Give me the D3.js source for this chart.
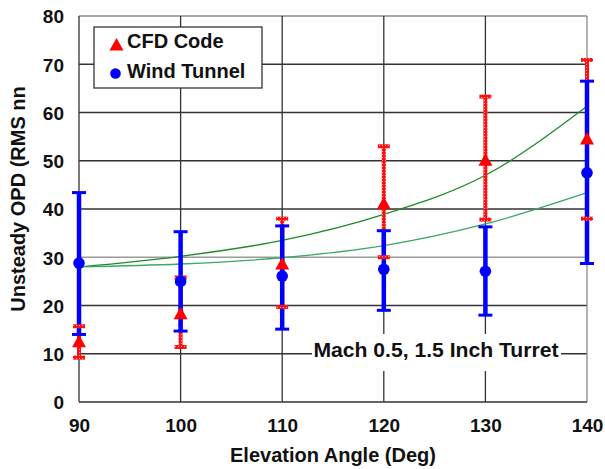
<!DOCTYPE html>
<html>
<head>
<meta charset="utf-8">
<script src="https://cdn.jsdelivr.net/npm/d3@7"></script>
<style>
  body { margin: 0; background: #fff; }
  svg text { font-family: "Liberation Sans", Arial, sans-serif; font-weight: bold; fill: #111; }
</style>
</head>
<body>
<svg id="chart" width="605" height="469"></svg>
<script>
// elevation angle (deg)
const angles = [90, 100, 110, 120, 130, 140];

// CFD code: mean and error bar ends
const cfdValue = [12.6, 18.4, 28.7, 41.2, 50.2, 54.6];
const cfdHigh = [15.7, 25.8, 38.0, 53.0, 63.3, 70.9];
const cfdLow = [9.2, 11.4, 19.7, 30.0, 37.8, 38.0];

// wind tunnel: mean and error bar ends
const wtValue = [28.8, 25.0, 26.1, 27.5, 27.1, 47.5];
const wtHigh = [43.4, 35.3, 36.5, 35.5, 36.3, 66.5];
const wtLow = [14.0, 14.7, 15.1, 19.0, 18.0, 28.7];

// the two green trend curves
const fitUpper = [28.0, 30.2, 33.5, 38.9, 47.0, 61.3];
const fitLower = [28.0, 28.6, 29.9, 32.4, 36.9, 43.4];

const yTicks = [0, 10, 20, 30, 40, 50, 60, 70, 80];

const svg = d3.select("#chart");
const plotLeft = 79, plotRight = 587, plotTop = 16, plotBottom = 402;

const x = d3.scaleLinear().domain([90, 140]).range([plotLeft, plotRight]);
const y = d3.scaleLinear().domain([0, 80]).range([plotBottom, plotTop]);

// speckled red fill used by the CFD error bars
const pat = svg.append("defs").append("pattern")
  .attr("id", "speckle")
  .attr("width", 3).attr("height", 3)
  .attr("patternUnits", "userSpaceOnUse");
pat.append("rect").attr("width", 3).attr("height", 3).attr("fill", "#ff1010");
pat.append("rect").attr("x", 1).attr("y", 1).attr("width", 1).attr("height", 1)
  .attr("fill", "#ffb0b0");

// grid
svg.append("g").selectAll("line")
  .data(yTicks.filter(d => d > 0))
  .join("line")
  .attr("x1", plotLeft).attr("x2", plotRight)
  .attr("y1", d => y(d)).attr("y2", d => y(d))
  .attr("stroke", d => d === 30 ? "#9a9a9a" : (d === 80 ? "#8a8a8a" : "#333"))
  .attr("stroke-width", 1.3);

svg.append("g").selectAll("line")
  .data(angles)
  .join("line")
  .attr("x1", d => x(d)).attr("x2", d => x(d))
  .attr("y1", plotTop).attr("y2", plotBottom)
  .attr("stroke", d => d === 140 ? "#8a8a8a" : "#333")
  .attr("stroke-width", 1.3);

svg.append("line")
  .attr("x1", plotLeft).attr("x2", plotRight).attr("y1", plotBottom).attr("y2", plotBottom)
  .attr("stroke", "#333").attr("stroke-width", 1.5);

// axes (labels only)
const xAxis = svg.append("g")
  .attr("transform", `translate(0,${plotBottom})`)
  .call(d3.axisBottom(x).tickValues(angles).tickSize(0).tickPadding(0));
xAxis.select(".domain").remove();
xAxis.selectAll("text")
  .attr("y", 30).attr("dy", null)
  .style("font-size", "19px");

const yAxis = svg.append("g")
  .attr("transform", `translate(${plotLeft},0)`)
  .call(d3.axisLeft(y).tickValues(yTicks).tickSize(0).tickPadding(15));
yAxis.select(".domain").remove();
yAxis.selectAll("text")
  .attr("dy", "0.36em")
  .style("font-size", "19px");

svg.append("text")
  .attr("x", (plotLeft + plotRight) / 2).attr("y", 462)
  .attr("text-anchor", "middle")
  .style("font-size", "20px")
  .text("Elevation Angle (Deg)");

svg.append("text")
  .attr("transform", "translate(25,199) rotate(-90)")
  .attr("text-anchor", "middle")
  .style("font-size", "20px")
  .text("Unsteady OPD (RMS nn");

// annotation
svg.append("rect")
  .attr("x", 312).attr("y", 334).attr("width", 249).attr("height", 37)
  .attr("fill", "#fff");
svg.append("text")
  .attr("x", 436).attr("y", 357)
  .attr("text-anchor", "middle")
  .attr("textLength", 245).attr("lengthAdjust", "spacingAndGlyphs")
  .style("font-size", "20px")
  .text("Mach 0.5,  1.5 Inch Turret");

// trend curves
const line = d3.line()
  .x((d, i) => x(angles[i]))
  .y(d => y(d))
  .curve(d3.curveMonotoneX);

svg.append("path").datum(fitUpper)
  .attr("d", line).attr("fill", "none")
  .attr("stroke", "#1f8a2a").attr("stroke-width", 1.3);
svg.append("path").datum(fitLower)
  .attr("d", line).attr("fill", "none")
  .attr("stroke", "#3aa868").attr("stroke-width", 1.3);

// CFD error bar stems
svg.append("g").selectAll("rect")
  .data(angles)
  .join("rect")
  .attr("x", d => x(d) - 2)
  .attr("y", (d, i) => y(cfdHigh[i]))
  .attr("width", 4)
  .attr("height", (d, i) => y(cfdLow[i]) - y(cfdHigh[i]))
  .attr("fill", "url(#speckle)");

// wind tunnel error bars
const wt = svg.append("g").attr("stroke", "#0000ff");
wt.selectAll("line.stem")
  .data(angles)
  .join("line")
  .attr("class", "stem")
  .attr("x1", d => x(d)).attr("x2", d => x(d))
  .attr("y1", (d, i) => y(wtHigh[i])).attr("y2", (d, i) => y(wtLow[i]))
  .attr("stroke-width", 4.5);
for (const ends of [wtHigh, wtLow]) {
  wt.append("g").selectAll("line")
    .data(angles)
    .join("line")
    .attr("x1", d => x(d) - 7).attr("x2", d => x(d) + 7)
    .attr("y1", (d, i) => y(ends[i])).attr("y2", (d, i) => y(ends[i]))
    .attr("stroke-width", 3);
}

// CFD caps
for (const ends of [cfdHigh, cfdLow]) {
  svg.append("g").selectAll("rect")
    .data(angles)
    .join("rect")
    .attr("x", d => x(d) - 6)
    .attr("y", (d, i) => y(ends[i]) - 2)
    .attr("width", 12).attr("height", 4)
    .attr("fill", "url(#speckle)");
}

// markers
svg.append("g").selectAll("circle")
  .data(angles)
  .join("circle")
  .attr("cx", d => x(d))
  .attr("cy", (d, i) => y(wtValue[i]))
  .attr("r", 5.8)
  .attr("fill", "#0000ff");

const tri = (cx, cy) => `M${cx},${cy - 6.5}L${cx + 7},${cy + 6}L${cx - 7},${cy + 6}Z`;
svg.append("g").selectAll("path")
  .data(angles)
  .join("path")
  .attr("d", (d, i) => tri(x(d), y(cfdValue[i])))
  .attr("fill", "#ff0000");

// legend
const lg = svg.append("g");
lg.append("rect")
  .attr("x", 94).attr("y", 27).attr("width", 168).attr("height", 61)
  .attr("fill", "#fff").attr("stroke", "#333").attr("stroke-width", 1.3);
lg.append("path").attr("d", tri(116.5, 44.5)).attr("fill", "#ff0000");
lg.append("circle").attr("cx", 115.5).attr("cy", 73.5).attr("r", 5.3).attr("fill", "#0000ff");
lg.append("text").attr("x", 127).attr("y", 47.5).style("font-size", "20px").text("CFD Code");
lg.append("text").attr("x", 127).attr("y", 77.5).style("font-size", "20px").text("Wind Tunnel");
</script>
</body>
</html>
